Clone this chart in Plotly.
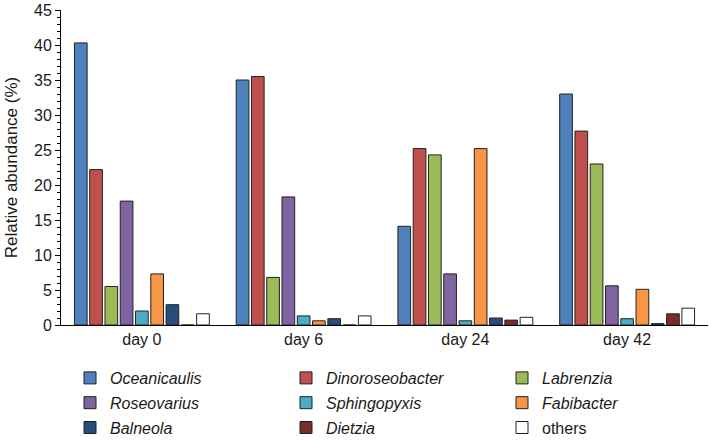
import plotly.graph_objects as go

days = ["day 0", "day 6", "day 24", "day 42"]

oceanicaulis = [40.3, 35.0, 14.1, 33.0]
dinoroseobacter = [22.2, 35.5, 25.2, 27.7]
labrenzia = [5.5, 6.8, 24.3, 23.0]
roseovarius = [17.7, 18.3, 7.3, 5.6]
sphingopyxis = [2.0, 1.3, 0.6, 0.9]
fabibacter = [7.3, 0.6, 25.2, 5.1]
balneola = [2.9, 0.9, 1.0, 0.2]
dietzia = [0, 0, 0.7, 1.6]
others = [1.6, 1.3, 1.1, 2.4]

series = [
    ("Oceanicaulis", oceanicaulis, "#4F81BD", "legend", True),
    ("Dinoroseobacter", dinoroseobacter, "#C0504D", "legend2", True),
    ("Labrenzia", labrenzia, "#9BBB59", "legend3", True),
    ("Roseovarius", roseovarius, "#8064A2", "legend", True),
    ("Sphingopyxis", sphingopyxis, "#4BACC6", "legend2", True),
    ("Fabibacter", fabibacter, "#F79646", "legend3", True),
    ("Balneola", balneola, "#254E7D", "legend", True),
    ("Dietzia", dietzia, "#7B2C2A", "legend2", True),
    ("others", others, "#FFFFFF", "legend3", False),
]

FONT = "Liberation Sans, Arial, sans-serif"
TXT = "#1a1a1a"

fig = go.Figure()
for name, vals, color, leg, italic in series:
    label = f"<i>{name}</i>" if italic else name
    fig.add_trace(go.Bar(
        x=days, y=vals, name=label,
        marker=dict(color=color, line=dict(color="#222222", width=1)),
        legend=leg, legendgroup=name,
    ))

W, H = 709, 440
L, R, T, B = 61, 1, 10, 115
plot_w = W - L - R
plot_h = H - T - B

def leg(figx, figy):
    return dict(
        x=(figx - L) / plot_w, xanchor="left",
        y=(H - B - figy) / plot_h, yanchor="top",
        orientation="v", tracegroupgap=1, bgcolor="rgba(0,0,0,0)",
        font=dict(family=FONT, size=16, color=TXT),
        itemwidth=30,
    )

legend_top = 361
fig.update_layout(
    width=W, height=H,
    margin=dict(l=L, r=R, t=T, b=B, autoexpand=False),
    paper_bgcolor="white", plot_bgcolor="white",
    font=dict(family=FONT, size=16, color=TXT),
    barmode="group", bargap=0.15, bargroupgap=0.17,
    showlegend=True,
    legend=leg(70, legend_top), legend2=leg(286, legend_top), legend3=leg(502, legend_top),
)

fig.update_xaxes(
    showline=True, linecolor="black", linewidth=1, ticks="",
    tickfont=dict(family=FONT, size=16, color=TXT),
    showgrid=False, zeroline=False,
)
fig.update_yaxes(
    range=[0, 45], dtick=5, tick0=0,
    showline=True, linecolor="black", linewidth=1,
    ticks="outside", ticklen=5, tickcolor="black",
    minor=dict(dtick=1, ticks="outside", ticklen=3, tickcolor="black", showgrid=False),
    showgrid=False, zeroline=False,
    ticklabeloverflow="allow",
    tickfont=dict(family=FONT, size=16, color=TXT),
    title=dict(text="Relative abundance (%)", font=dict(family=FONT, size=17, color=TXT), standoff=12),
)

fig.write_html("out.html", config={"displayModeBar": False},
               post_script="document.body.style.margin='0';")
